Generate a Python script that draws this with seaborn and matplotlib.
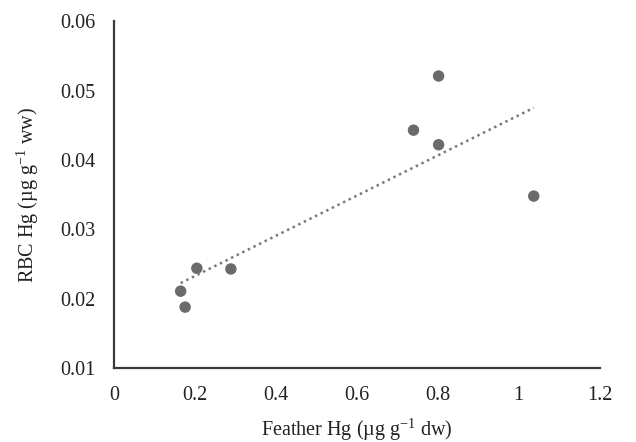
import numpy as np
import pandas as pd
import matplotlib
matplotlib.use("Agg")
import matplotlib.pyplot as plt
import seaborn as sns

# ── data ─────────────────────────────────────────────────────
feather_hg = [0.165, 0.176, 0.205, 0.289, 0.740, 0.802, 0.802, 1.037]
rbc_hg     = [0.0211, 0.0188, 0.0244, 0.0243, 0.0443, 0.0521, 0.0422, 0.0348]
x_ticks = [0, 0.2, 0.4, 0.6, 0.8, 1, 1.2]
x_tick_labels = ["0", "0.2", "0.4", "0.6", "0.8", "1", "1.2"]
y_ticks = [0.01, 0.02, 0.03, 0.04, 0.05, 0.06]
y_tick_labels = ["0.01", "0.02", "0.03", "0.04", "0.05", "0.06"]

df = pd.DataFrame({"feather": feather_hg, "rbc": rbc_hg})

# ── style ────────────────────────────────────────────────────
sns.set_style("white")
plt.rcParams["font.family"] = ["Liberation Serif", "DejaVu Serif"]
plt.rcParams["mathtext.fontset"] = "custom"
plt.rcParams["mathtext.rm"] = "Liberation Serif"
plt.rcParams["mathtext.it"] = "Liberation Serif:italic"

fig = plt.figure(figsize=(6.36, 4.42), dpi=100)
ax = fig.add_axes([0.179, 0.167, 0.764, 0.785])

# scatter + least-squares trendline (dotted, like the Excel original)
sns.regplot(data=df, x="feather", y="rbc", ci=None, ax=ax,
            scatter_kws={"s": 68, "color": "#6b6b6b", "edgecolor": "none", "alpha": 1},
            line_kws={"color": "#7a7a7a", "linestyle": (0, (1, 1.5)), "linewidth": 1.8})

ax.set_xlim(0, 1.2)
ax.set_ylim(0.01, 0.06)
ax.set_xticks(x_ticks)
ax.set_xticklabels(x_tick_labels)
ax.set_yticks(y_ticks)
ax.set_yticklabels(y_tick_labels)
ax.tick_params(axis="both", length=0, labelsize=14.5, colors="#222222")
ax.tick_params(axis="x", pad=13)
ax.tick_params(axis="y", pad=13)

sns.despine(ax=ax)
for side in ["left", "bottom"]:
    ax.spines[side].set_color("#3a3a3a")
    ax.spines[side].set_linewidth(1.6)

ax.set_xlabel(r"Feather Hg (µg g$^{\mathregular{-1}}$ dw)", fontsize=14.5, color="#222222", labelpad=8)
ax.set_ylabel(r"RBC Hg (µg g$^{\mathregular{-1}}$ ww)", fontsize=14.5, color="#222222", labelpad=14)

fig.savefig("out.png", dpi=100)
plt.close(fig)
